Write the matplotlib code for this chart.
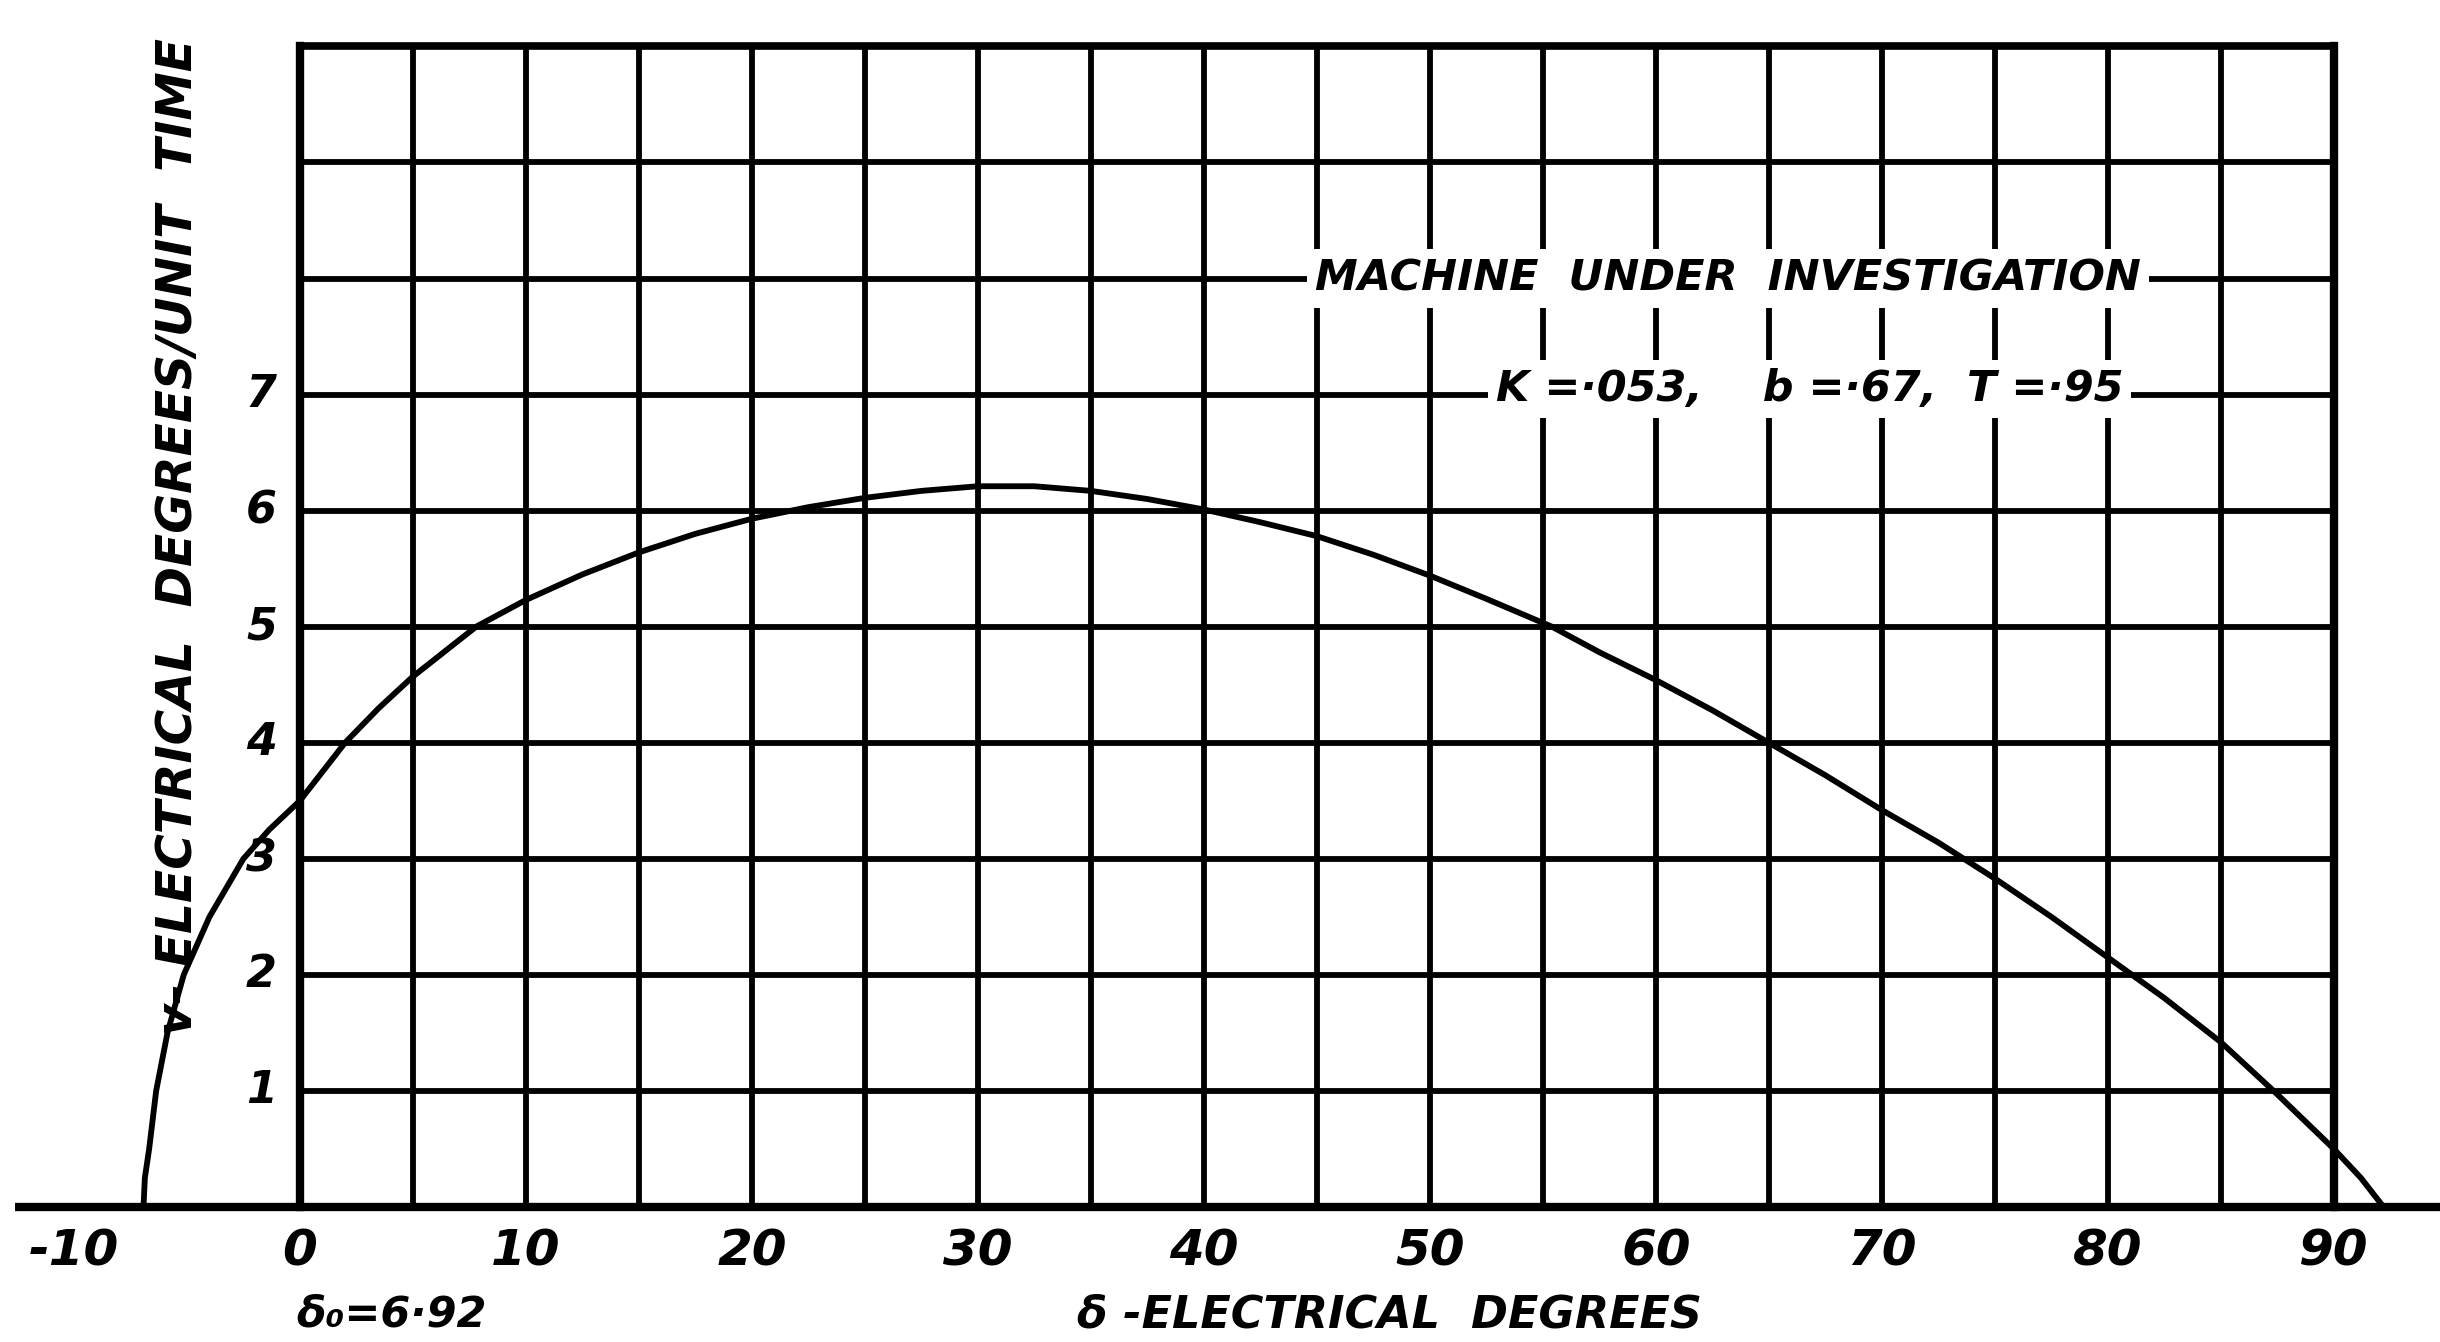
import numpy as np
from matplotlib import pyplot as plt

# curve (delta in electrical degrees, v in el. deg / unit time)
delta = [-6.92, -6.86, -6.67, -6.36, -5.86, -5.14, -4.0, -2.5, -1.36, 0, 2, 3.5, 5, 7.8,
         10, 12.5, 15, 17.5, 20, 22.5, 25, 27.5, 30, 32.5, 35, 37.5, 40, 42.5, 45, 47.5,
         50, 52.5, 55.4, 57.5, 60, 62.5, 65, 67.5, 70, 72.5, 75, 77.5, 80, 82.5, 85, 87.5,
         90, 91.2, 92.2]
v = [0, 0.25, 0.5, 1.0, 1.5, 2.0, 2.5, 3.0, 3.25, 3.5, 4.0, 4.3, 4.57, 5.0,
     5.23, 5.45, 5.64, 5.8, 5.93, 6.03, 6.11, 6.17, 6.21, 6.21, 6.17, 6.1, 6.01, 5.9, 5.78, 5.62,
     5.44, 5.24, 5.0, 4.78, 4.54, 4.28, 4.0, 3.72, 3.42, 3.14, 2.83, 2.5, 2.15, 1.8, 1.42, 0.97,
     0.5, 0.25, 0]

x_ticks = [-10, 0, 10, 20, 30, 40, 50, 60, 70, 80, 90]
x_tick_labels = ['-10', '0', '10', '20', '30', '40', '50', '60', '70', '80', '90']
y_ticks = [1, 2, 3, 4, 5, 6, 7]
y_tick_labels = ['1', '2', '3', '4', '5', '6', '7']

grid_x = np.arange(0, 91, 5)
grid_y = np.arange(1, 11, 1)

title1 = 'MACHINE  UNDER  INVESTIGATION'
title2 = 'K =·053,    b =·67,  T =·95'
xlab = 'δ -ELECTRICAL  DEGREES'
ylab = 'v- ELECTRICAL  DEGREES/UNIT  TIME'
d0_lab = 'δ₀=6·92'

fnt = ['DejaVu Sans']

fig = plt.figure(figsize=(24.4, 13.42), dpi=100)
ax = fig.add_axes([0, 0, 1, 1])
ax.set_xlim(-13.27, 94.7)
ax.set_ylim(-1.164, 10.40)
ax.axis('off')

# grid
for gx in grid_x:
    lw = 6 if gx in (0, 90) else 4.2
    ax.plot([gx, gx], [0, 10], color='black', lw=lw, zorder=1)
for gy in grid_y:
    lw = 5.5 if gy == 10 else 4.2
    ax.plot([0, 90], [gy, gy], color='black', lw=lw, zorder=1)

# x axis line
ax.plot([-12.6, 94.7], [0, 0], color='black', lw=6, zorder=2, solid_capstyle='butt')

# curve
ax.plot(delta, v, color='black', lw=4.2, zorder=3, solid_joinstyle='round')

# tick labels
for t, s in zip(x_ticks, x_tick_labels):
    ax.text(t, -0.38, s, ha='center', va='center', fontsize=36, fontweight='bold',
            style='italic', family=fnt)
for t, s in zip(y_ticks, y_tick_labels):
    ax.text(-1.7, t, s, ha='center', va='center', fontsize=32, fontweight='bold',
            style='italic', family=fnt)

ax.text(4.06, -0.93, d0_lab, ha='center', va='center', fontsize=31, fontweight='bold',
        style='italic', family=fnt)
ax.text(48.2, -0.93, xlab, ha='center', va='center', fontsize=32, fontweight='bold',
        style='italic', family=fnt)
ax.text(-5.4, 5.78, ylab, ha='center', va='center', rotation=90, fontsize=35,
        fontweight='bold', style='italic', family=fnt)

# annotation over the grid
box = dict(facecolor='white', edgecolor='none', pad=6)
ax.text(63.2, 8.0, title1, ha='center', va='center', fontsize=31, fontweight='bold',
        style='italic', family=fnt, bbox=box, zorder=4)
ax.text(66.8, 7.05, title2, ha='center', va='center', fontsize=31, fontweight='bold',
        style='italic', family=fnt, bbox=box, zorder=4)

plt.savefig('out.png', dpi=100)
